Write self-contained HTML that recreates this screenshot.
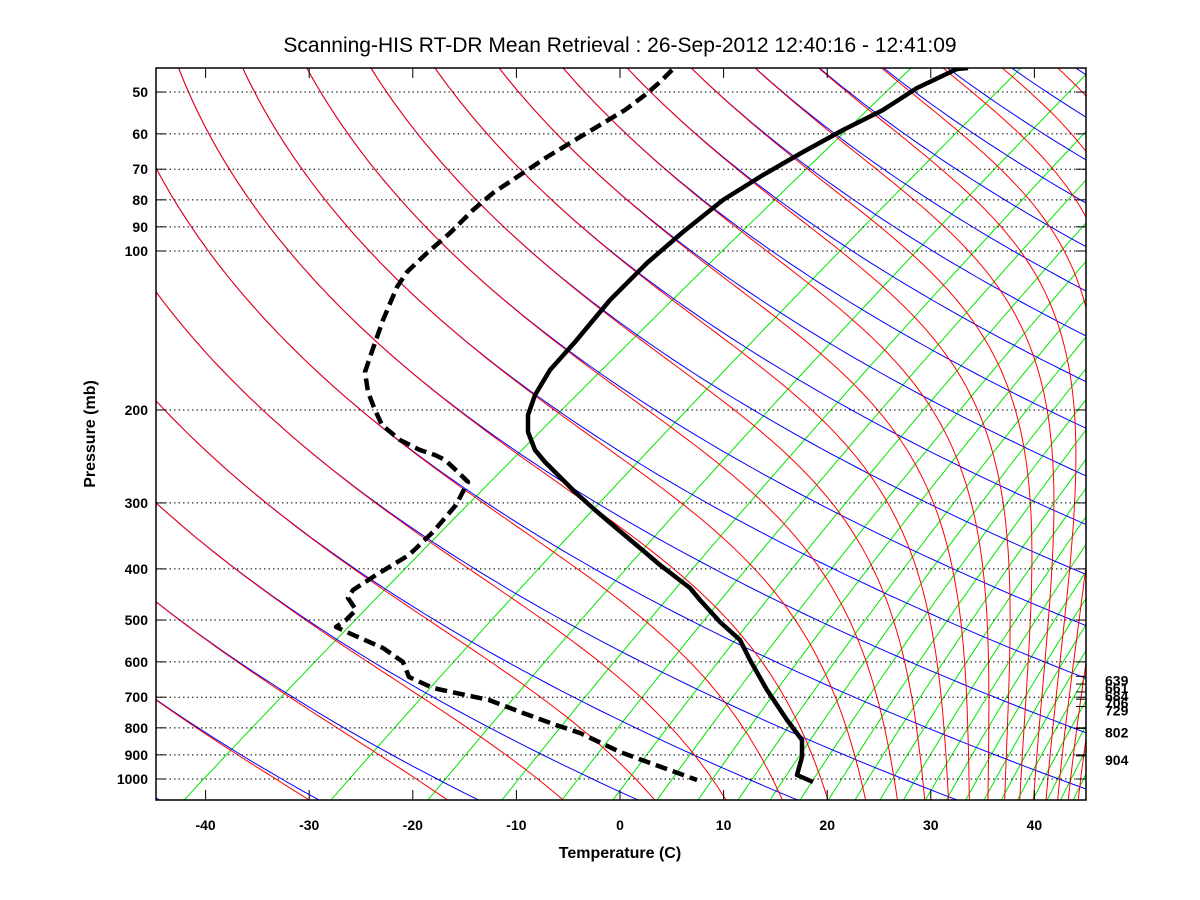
<!DOCTYPE html>
<html><head><meta charset="utf-8">
<style>
html,body{margin:0;padding:0;background:#fff;}
svg{display:block;}
text{font-family:"Liberation Sans",Arial,sans-serif;}
</style></head>
<body>
<svg id="s" width="1200" height="900" viewBox="0 0 1200 900" xmlns="http://www.w3.org/2000/svg">
<defs><clipPath id="c"><rect x="156" y="68" width="930" height="732"/></clipPath></defs>
<rect width="1200" height="900" fill="#fff"/>
<g id="lines" clip-path="url(#c)"></g>
<g id="axes"></g>
<text x="620" y="52" font-size="21" text-anchor="middle">Scanning-HIS RT-DR Mean Retrieval : 26-Sep-2012 12:40:16 - 12:41:09</text>
<text x="620" y="858" font-size="16" font-weight="bold" text-anchor="middle">Temperature (C)</text>
<text transform="translate(95,434) rotate(-90)" font-size="16" font-weight="bold" text-anchor="middle">Pressure (mb)</text>
</svg>
<script>
(function(){
var NS="http://www.w3.org/2000/svg";
var L=document.getElementById('lines'), A=document.getElementById('axes');
function X(T,p){return 620+10.36*(T+70*Math.log10(1000/p));}
function Y(p){return 779+528*Math.log10(p/1000);}
function el(par,tag,at,txt){var e=document.createElementNS(NS,tag);for(var k in at)e.setAttribute(k,at[k]);if(txt!==undefined)e.textContent=txt;par.appendChild(e);return e;}
function es(tc){return 6.112*Math.exp(17.67*tc/(tc+243.5));}
var ps=[];for(var i=0;i<=120;i++){ps.push(40*Math.pow(1120/40,i/120));}
function poly(pts,col,w,extra){var d=pts.map(function(q){return q[0].toFixed(1)+','+q[1].toFixed(1);}).join(' ');var a={points:d,fill:'none',stroke:col,'stroke-width':w,'stroke-linejoin':'round'};if(extra)for(var k in extra)a[k]=extra[k];el(L,'polyline',a);}
var xb=[184,331,428,502,562,613,657,698,738];var d=32,x=738;while(x<1100){x+=d;xb.push(x);d*=0.94;}
var pb=1000*Math.pow(10,21/528);
xb.forEach(function(xx){var tc=(xx-620)/10.36-70*Math.log10(1000/pb);var e=es(tc);var w=0.622*e/(pb-e);
 var pts=ps.map(function(p){var ee=w*p/(0.622+w);var a=Math.log(ee/6.112);var td=243.5*a/(17.67-a);return [X(td,p),Y(p)];});
 poly(pts,'#00e600',1);});
var ths=[];for(var t=210.5;t<=575;t+=15)ths.push(t);
ths.forEach(function(th){var pts=ps.map(function(p){var tk=th*Math.pow(p/1000,0.2857);return [X(tk-273.15,p),Y(p)];});poly(pts,'#0000ff',1);});
function thetae(tk,p){var e=es(tk-273.15);var w=0.622*e/(p-e);return tk*Math.pow(1000/p,0.2857)*Math.exp(2.5e6*w/(1004*tk));}
ths.forEach(function(th){var pts=[];ps.forEach(function(p){var a=Math.log(p*0.3/6.112);var tmax=243.5*a/(17.67-a)+273.15;var lo=120,hi=Math.min(tmax,345);
 if(thetae(hi,p)<th)return;
 for(var k=0;k<50;k++){var m=(lo+hi)/2;if(thetae(m,p)<th)lo=m;else hi=m;}
 pts.push([X(lo-273.15,p),Y(p)]);});
 if(pts.length>1)poly(pts,'#ff0000',1);});
var gp=[50,60,70,80,90,100,200,300,400,500,600,700,800,900,1000];
gp.forEach(function(p){var y=Y(p);el(L,'line',{x1:156,x2:1086,y1:y,y2:y,stroke:'#000','stroke-width':1,'stroke-dasharray':'1.5,3'});
 el(A,'line',{x1:156,x2:166,y1:y,y2:y,stroke:'#000','stroke-width':1});
 el(A,'line',{x1:1076,x2:1086,y1:y,y2:y,stroke:'#000','stroke-width':1});
 el(A,'text',{x:148,y:y+5,'font-size':14,'font-weight':'bold','text-anchor':'end'},String(p));});
var T=[[968,68],[957,69],[917,88],[883,110],[843,130],[803,152],[763,175],[723,200],[683,232],[647,263],[610,300],[575,342],[550,370],[535,395],[528,415],[528,432],[535,450],[545,462],[560,477],[575,492],[595,510],[615,527],[640,548],[660,565],[690,588],[700,600],[720,622],[740,640],[750,660],[767,690],[787,720],[802,740],[802,757],[797,775],[813,782]];
var D=[[672,70],[660,82],[645,95],[625,110],[600,125],[575,140],[547,157],[517,177],[493,193],[473,210],[450,233],[427,253],[407,272],[397,287],[383,320],[370,357],[365,372],[368,392],[375,410],[382,425],[400,440],[420,450],[435,455],[445,460],[458,472],[468,482],[456,505],[433,532],[409,555],[376,575],[353,590],[348,598],[356,610],[346,620],[336,627],[349,633],[383,648],[403,662],[409,677],[433,688],[489,700],[523,713],[556,725],[580,733],[620,752],[697,780]];
poly(T,'#000',4.5);
poly(D,'#000',4.5,{'stroke-dasharray':'12,6'});
el(A,'rect',{x:156,y:68,width:930,height:732,fill:'none',stroke:'#000','stroke-width':1.5});
for(var tt=-40;tt<=40;tt+=10){var xx=620+10.36*tt;
 el(A,'line',{x1:xx,x2:xx,y1:800,y2:790,stroke:'#000','stroke-width':1});
 el(A,'line',{x1:xx,x2:xx,y1:68,y2:78,stroke:'#000','stroke-width':1});
 el(A,'text',{x:xx,y:830,'font-size':14,'font-weight':'bold','text-anchor':'middle'},String(tt));}
[639,661,684,706,729,802,904].forEach(function(p){var y=Y(p);
 el(A,'line',{x1:1076,x2:1086,y1:y,y2:y,stroke:'#000','stroke-width':1});
 el(A,'text',{x:1105,y:y+9,'font-size':14,'font-weight':'bold'},String(p));});
})();
</script>
</body></html>
